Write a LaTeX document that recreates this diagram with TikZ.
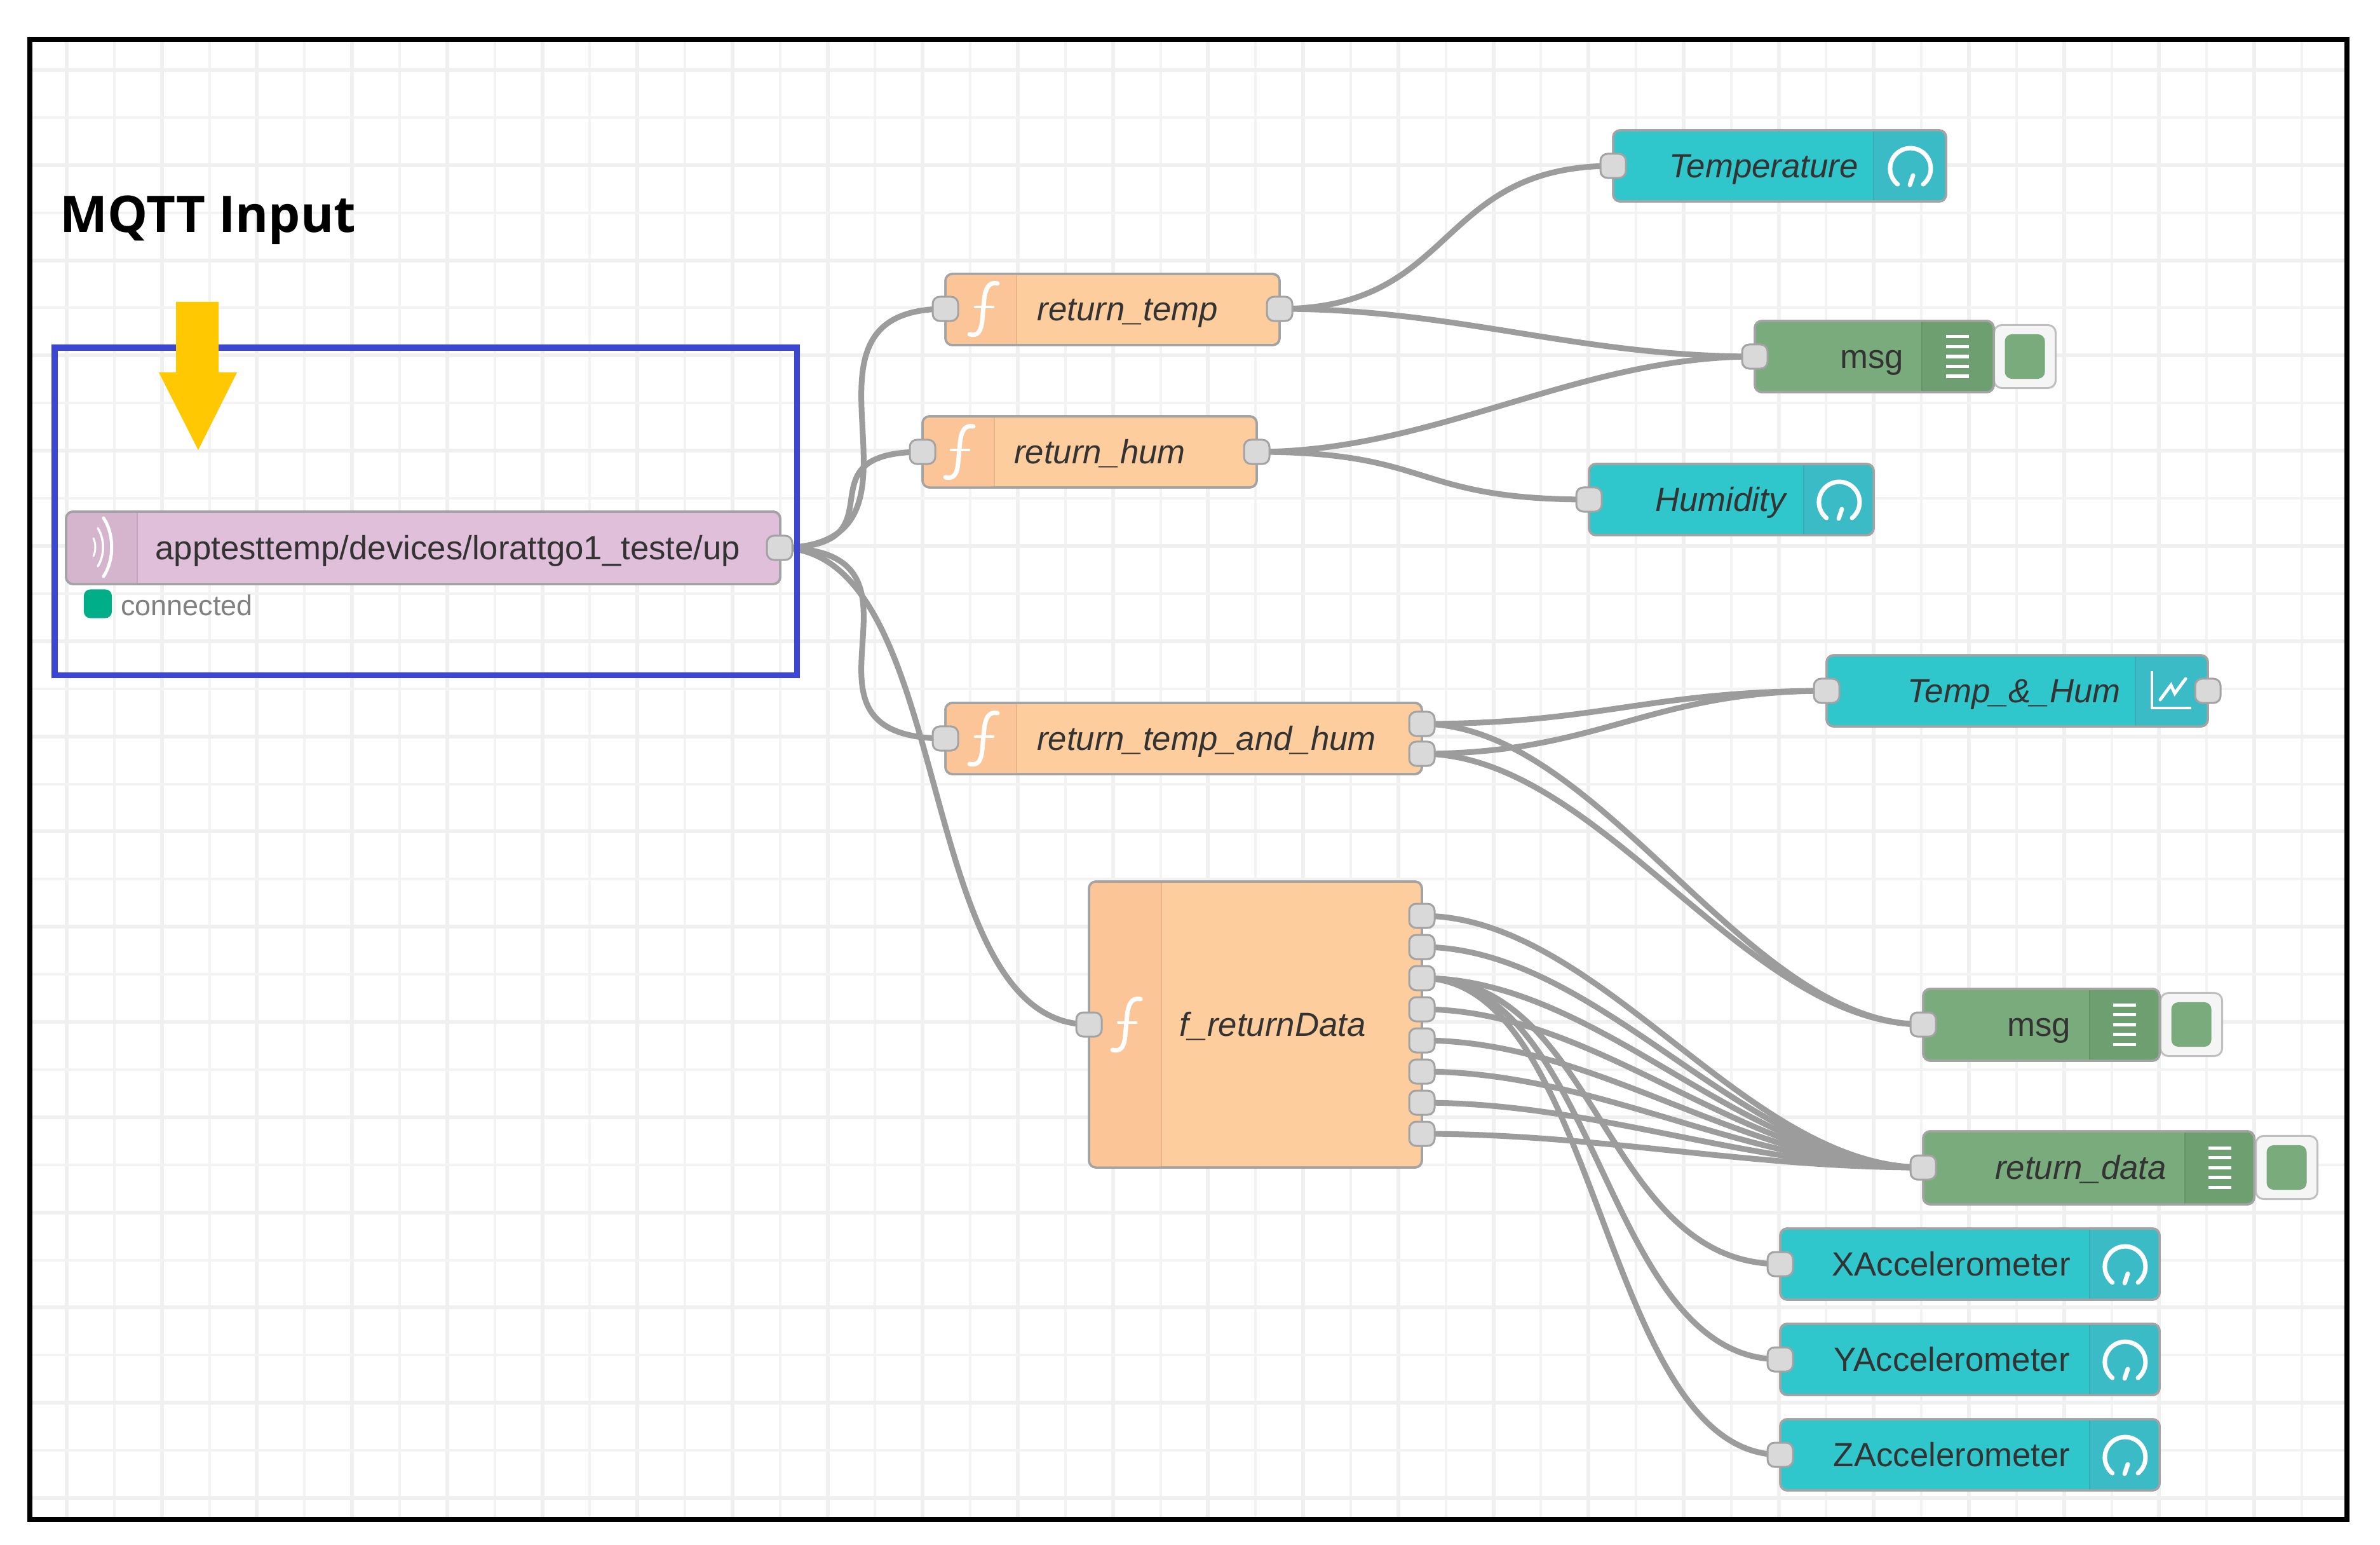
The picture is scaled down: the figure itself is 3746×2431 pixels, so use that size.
\documentclass[tikz,border=0pt]{standalone}
\usepackage{fontspec}
\setmainfont{Liberation Sans}
\newfontfamily\titlefont{Open Sans}
\pgfdeclarelayer{wirelayer}
\pgfsetlayers{wirelayer,main}
\definecolor{gridc}{HTML}{F0F0F0}
\definecolor{wirec}{HTML}{9C9C9C}
\definecolor{fnbody}{HTML}{FDCD9E}
\definecolor{fnbar}{HTML}{FBC597}
\definecolor{mqbody}{HTML}{DFBFD9}
\definecolor{mqbar}{HTML}{D5B4CE}
\definecolor{dsbody}{HTML}{2FC6CC}
\definecolor{dsbar}{HTML}{3ABBC6}
\definecolor{dbbody}{HTML}{7AAB7D}
\definecolor{dbbar}{HTML}{6E9F71}
\definecolor{framec}{HTML}{000000}
\definecolor{bluec}{HTML}{3B47D2}
\definecolor{yellowc}{HTML}{FFC800}
\definecolor{statusc}{HTML}{00AE87}
\definecolor{nrline}{HTML}{A3A3A3}
\definecolor{portc}{HTML}{D9D9D9}
\definecolor{textc}{HTML}{333333}
\tikzset{
  nrbody/.style={draw=nrline,line width=0.035cm,rounded corners=0.11cm,inner sep=0pt,outer sep=0pt},
  nrport/.style={draw=nrline,fill=portc,line width=0.03cm,rounded corners=0.11cm,inner sep=0pt,outer sep=0pt,minimum width=0.40cm,minimum height=0.38cm},
  wire/.style={draw=wirec,line width=0.09cm},
  gridthick/.style={draw=gridc,line width=0.06cm},
  gridthin/.style={draw=gridc!80!white,line width=0.04cm},
  nrlabel/.style={inner sep=0pt,anchor=mid,yshift=-0.09cm,text=textc,font=\fontsize{15}{18}\selectfont},
  nritalic/.style={nrlabel,font=\fontsize{15}{18}\selectfont\itshape},
  iconline/.style={draw=white,line width=0.06cm,line cap=round},
  debugbtn/.style={draw=nrline!70,fill=white!96!black,line width=0.03cm,rounded corners=0.12cm,inner sep=0pt,minimum width=0.97cm,minimum height=0.99cm},
  debugfill/.style={fill=dbbody,rounded corners=0.11cm,inner sep=0pt,minimum width=0.63cm,minimum height=0.70cm},
}
% name, x1, y1, x2, y2, divider x, body colour, bar colour, bar-side x
\newcommand\nrbox[9]{%
  \pgfmathsetmacro\nrW{#4-#2}\pgfmathsetmacro\nrH{#5-#3}%
  \node[nrbody,fill=#7,minimum width=\nrW*0.01cm,minimum height=\nrH*0.01cm] (#1) at ({(#2+#4)/2},{(#3+#5)/2}) {};%
  \begin{scope}
    \clip[rounded corners=0.11cm] (#2,#3) rectangle (#4,#5);
    \fill[#8] (#6,#3) rectangle (#9,#5);
  \end{scope}
  \draw[#8!92!black,line width=0.015cm] (#6,#3) -- (#6,#5);
  \draw[nrline,line width=0.035cm,rounded corners=0.11cm] (#2,#3) rectangle (#4,#5);
}
\newcommand\fnicon[2]{\begin{scope}[shift={(#1,#2)},x=0.01cm,y=0.01cm]
  \draw[iconline,line width=0.07cm] (22,40) .. controls (8,43) and (3,32) .. (1,15) -- (-2,-18) .. controls (-4,-36) and (-9,-43) .. (-22,-40);
  \draw[iconline,line width=0.045cm] (-13,3) -- (15,3);
\end{scope}}
\newcommand\gaugeicon[2]{\begin{scope}[shift={(#1,#2)},x=0.01cm,y=0.01cm]
  \draw[iconline,line width=0.07cm] (21,-26) arc[start angle=-51,end angle=231,radius=32];
  \draw[iconline,line width=0.07cm] (5,-12) -- (0,-27);
\end{scope}}
\newcommand\debugicon[2]{\begin{scope}[shift={(#1,#2)},x=0.01cm,y=0.01cm]
  \foreach \q in {-31,-15.5,0,15.5,31} {\draw[draw=white,line width=0.05cm] (-18,\q) -- (18,\q);}
\end{scope}}
\begin{document}
\begin{tikzpicture}[x=0.01cm,y=-0.01cm]
\useasboundingbox (0,0) rectangle (3746,2431);
% grid
\begin{pgfonlayer}{wirelayer}
\fill[white] (0,0) rectangle (3746,2431);
\begin{scope}
  \clip (47,62) rectangle (3694,2391);
  \foreach \k [evaluate=\k as \xx using 105+74.85*\k] in {0,...,48} {
    \ifodd\k \draw[gridthin] (\xx,62) -- (\xx,2391); \else \draw[gridthick] (\xx,62) -- (\xx,2391); \fi }
  \foreach \k [evaluate=\k as \yy using 110+74.9*\k] in {0,...,31} {
    \ifodd\k \draw[gridthin] (47,\yy) -- (3694,\yy); \else \draw[gridthick] (47,\yy) -- (3694,\yy); \fi }
\end{scope}
\end{pgfonlayer}
% nodes
\nrbox{mqtt}{104}{805}{1228}{919}{216}{mqbody}{mqbar}{104}
\nrbox{rtemp}{1488}{431}{2014}{543}{1600}{fnbody}{fnbar}{1488}
\nrbox{rhum}{1452}{655}{1978}{767}{1565}{fnbody}{fnbar}{1452}
\nrbox{rtah}{1488}{1106}{2238}{1218}{1600}{fnbody}{fnbar}{1488}
\nrbox{fret}{1714}{1387}{2238}{1837}{1828}{fnbody}{fnbar}{1714}
\nrbox{temp}{2539}{205}{3063}{317}{2949}{dsbody}{dsbar}{3063}
\nrbox{hum}{2501}{730}{2949}{842}{2839}{dsbody}{dsbar}{2949}
\nrbox{tah}{2875}{1031}{3475}{1143}{3361}{dsbody}{dsbar}{3475}
\nrbox{xacc}{2802}{1933}{3399}{2045}{3289}{dsbody}{dsbar}{3399}
\nrbox{yacc}{2802}{2083}{3399}{2195}{3289}{dsbody}{dsbar}{3399}
\nrbox{zacc}{2802}{2233}{3399}{2345}{3289}{dsbody}{dsbar}{3399}
% debug buttons
\node[debugbtn] (btna) at (3187,561) {};
\node[debugfill] (btnafill) at (3187,561) {};
\node[debugbtn] (btnb) at (3449,1612) {};
\node[debugfill] (btnbfill) at (3449,1612) {};
\node[debugbtn] (btnc) at (3599,1837) {};
\node[debugfill] (btncfill) at (3599,1837) {};
\nrbox{dbga}{2762}{505}{3138}{617}{3025}{dbbody}{dbbar}{3138}
\nrbox{dbgb}{3027}{1556}{3399}{1669}{3289}{dbbody}{dbbar}{3399}
\nrbox{dbgc}{3027}{1780}{3548}{1895}{3439}{dbbody}{dbbar}{3548}
% ports
\node[nrport] (pmq) at (1227,862) {};
\node[nrport] (irt) at (1488,486) {};
\node[nrport] (ort) at (2014,486) {};
\node[nrport] (irh) at (1452,711) {};
\node[nrport] (orh) at (1978,711) {};
\node[nrport] (ita) at (1488,1162) {};
\node[nrport] (ota) at (2238,1139) {};
\node[nrport] (otb) at (2238,1186) {};
\node[nrport] (ifr) at (1714,1612) {};
\node[nrport] (of1) at (2238,1441) {};
\node[nrport] (of2) at (2238,1490) {};
\node[nrport] (of3) at (2238,1539) {};
\node[nrport] (of4) at (2238,1588) {};
\node[nrport] (of5) at (2238,1637) {};
\node[nrport] (of6) at (2238,1686) {};
\node[nrport] (of7) at (2238,1735) {};
\node[nrport] (of8) at (2238,1784) {};
\node[nrport] (itp) at (2539,261) {};
\node[nrport] (idga) at (2762,561) {};
\node[nrport] (ihm) at (2501,786) {};
\node[nrport] (itah) at (2875,1087) {};
\node[nrport] (otah) at (3475,1087) {};
\node[nrport] (idgb) at (3027,1612) {};
\node[nrport] (idgc) at (3027,1837) {};
\node[nrport] (ixa) at (2802,1989) {};
\node[nrport] (iya) at (2802,2139) {};
\node[nrport] (iza) at (2802,2289) {};
% wires
\begin{pgfonlayer}{wirelayer}
\foreach \a/\b in {pmq/irt,pmq/ita,pmq/ifr,ort/itp,ort/idga,orh/idga,orh/ihm,ota/itah,otb/itah,ota/idgb,otb/idgb,
  of1/idgc,of2/idgc,of3/idgc,of4/idgc,of5/idgc,of6/idgc,of7/idgc,of8/idgc,of3/ixa,of3/iya,of3/iza}
  {\draw[wire] (\a.center) .. controls +(281,0) and +(-281,0) .. (\b.center);}
\draw[wire] (pmq.center) .. controls +(203,0) and +(-203,0) .. (irh.center);
\end{pgfonlayer}
% labels
\node[nrlabel] (lmq) at (705,862) {apptesttemp/devices/lorattgo1\_teste/up};
\node[nritalic] (lrt) at (1775,486) {return\_temp};
\node[nritalic] (lrh) at (1731,711) {return\_hum};
\node[nritalic] (lta) at (1899,1162) {return\_temp\_and\_hum};
\node[nritalic] (lfr) at (2003,1612) {f\_returnData};
\node[nritalic] (ltp) at (2776,261) {Temperature};
\node[nrlabel] (lda) at (2946,561) {msg};
\node[nritalic] (lhm) at (2708,786) {Humidity};
\node[nritalic] (ltah) at (3170,1087) {Temp\_\&\_Hum};
\node[nrlabel] (ldb) at (3209,1612) {msg};
\node[nritalic] (ldc) at (3275,1837) {return\_data};
\node[nrlabel] (lxa) at (3071,1989) {XAccelerometer};
\node[nrlabel] (lya) at (3072,2139) {YAccelerometer};
\node[nrlabel] (lza) at (3072,2289) {ZAccelerometer};
% icons
\fnicon{1548}{486}\fnicon{1510}{711}\fnicon{1548}{1162}\fnicon{1773}{1612}
\gaugeicon{3006}{264}\gaugeicon{2894}{789}
\gaugeicon{3344}{1992}\gaugeicon{3344}{2142}\gaugeicon{3344}{2292}
\debugicon{3081}{561}\debugicon{3344}{1612}\debugicon{3494}{1837}
\begin{scope}[shift={(160,861)},x=0.01cm,y=0.01cm]
  \draw[draw=white,line width=0.05cm,line cap=round] (3,46) .. controls (20,20) and (20,-20) .. (3,-46);
  \draw[draw=white,line width=0.035cm,line cap=round] (-6,30) .. controls (5,12) and (5,-12) .. (-6,-30);
  \draw[draw=white,line width=0.03cm,line cap=round] (-13,14) .. controls (-9,6) and (-9,-6) .. (-13,-14);
\end{scope}
\draw[iconline,line width=0.045cm,line cap=butt] (3387,1056) -- (3387,1114) -- (3449,1114);
\draw[iconline,line width=0.05cm] (3400,1101) -- (3417,1078) -- (3423,1091) -- (3440,1068);
% status
\node[fill=statusc,rounded corners=0.1cm,inner sep=0pt,minimum width=0.44cm,minimum height=0.45cm] (stat) at (154,950) {};
\node[inner sep=0pt,anchor=mid,text=black!50,font=\fontsize{12.8}{15}\selectfont] (lstat) at (294,959) {connected};
% title
\node[inner sep=0pt,anchor=mid,font=\fontsize{22.6}{26}\titlefont\bfseries] (title) at (327,356) {MQTT Input};
% annotation
\draw[bluec,line width=0.09cm] (86,547) rectangle (1254,1062);
\fill[yellowc] (277,475) -- (344,475) -- (344,586) -- (373,586) -- (312,708) -- (250,586) -- (277,586) -- cycle;
% frame
\draw[framec,line width=0.08cm] (47,62) rectangle (3694,2391);
\end{tikzpicture}
\end{document}
